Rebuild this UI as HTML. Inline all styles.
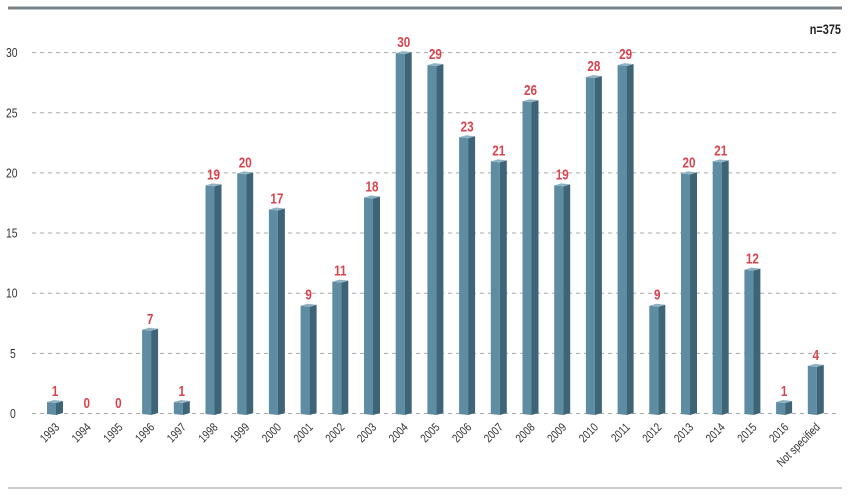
<!DOCTYPE html>
<html><head><meta charset="utf-8"><style>
body{margin:0;background:#fff;}
text{font-family:"Liberation Sans",sans-serif;}
</style></head><body>
<svg width="850" height="496" viewBox="0 0 850 496" xmlns="http://www.w3.org/2000/svg">
<rect x="8" y="6.5" width="834" height="3" fill="#7b8389"/>
<rect x="8" y="487" width="834" height="2" fill="#c9cbcc"/>
<text transform="translate(841,34) scale(0.78,1)" text-anchor="end" font-size="14" font-weight="bold" fill="#222">n=375</text>
<g id="grid" stroke="#aaa" stroke-dasharray="4,4" stroke-width="1"></g>
<g id="ylab" font-size="13" fill="#333"></g>
<g id="bars"></g>
<g id="vals" font-size="15" font-weight="bold" fill="#d9434e" text-anchor="middle"></g>
<g id="xlab" font-size="12" fill="#333" text-anchor="end"></g>
</svg>
<script>
var cats=["1993","1994","1995","1996","1997","1998","1999","2000","2001","2002","2003","2004","2005","2006","2007","2008","2009","2010","2011","2012","2013","2014","2015","2016","Not specified"];
var vals=[1,0,0,7,1,19,20,17,9,11,18,30,29,23,21,26,19,28,29,9,20,21,12,1,4];
var ns="http://www.w3.org/2000/svg";
function el(t,a,p,txt){var e=document.createElementNS(ns,t);for(var k in a)e.setAttribute(k,a[k]);if(txt!=null)e.textContent=txt;document.getElementById(p).appendChild(e);}
function Y(v){return 413-v*12.03;}
for(var v=0;v<=30;v+=5){el("line",{x1:32,x2:840,y1:Y(v)+0.5,y2:Y(v)+0.5},"grid");el("text",{transform:"translate("+(v<10?10:6)+","+(Y(v)+5)+") scale(0.8,1)"},"ylab",String(v));}
for(var i=0;i<cats.length;i++){
 var c=55+i*31.7,v=vals[i];
 if(v>0){var t=Y(v);
  el("polygon",{points:(c-8)+","+(t+1)+" "+(c+1)+","+(t+2)+" "+(c+1)+",415 "+(c-8)+",414",fill:"#5e8ca2"},"bars");
  el("polygon",{points:(c+1)+","+(t+2)+" "+(c+8)+","+(t)+" "+(c+8)+",413 "+(c+1)+",415",fill:"#3e6577"},"bars");
  el("polygon",{points:(c-8)+","+(t+1)+" "+(c-1)+","+(t-1)+" "+(c+8)+","+(t)+" "+(c+1)+","+(t+2),fill:"#8fb2c2"},"bars");
 }
 el("text",{transform:"translate("+c+","+(Y(v)-5)+") scale(0.78,1)"},"vals",String(v));
 el("text",{transform:"translate("+(c+5)+",428) rotate(-45) scale(0.8,1)"},"xlab",cats[i]);
}
</script>
</body></html>
